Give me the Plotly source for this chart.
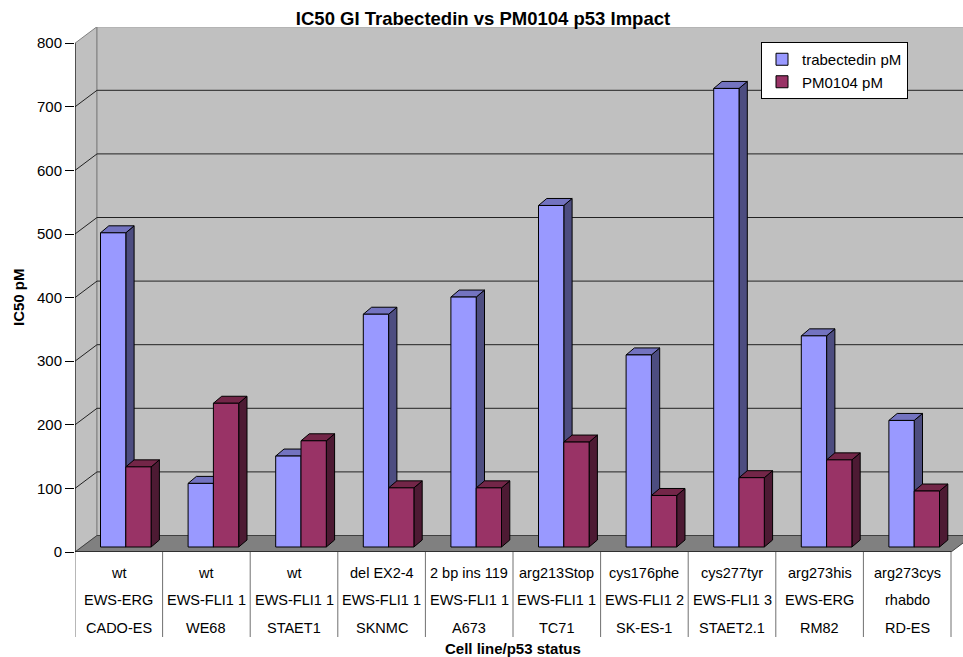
import plotly.graph_objects as go

# ---------------- data ----------------
mutation = ["wt", "wt", "wt", "del EX2-4", "2 bp ins 119", "arg213Stop",
            "cys176phe", "cys277tyr", "arg273his", "arg273cys"]
fusion = ["EWS-ERG", "EWS-FLI1 1", "EWS-FLI1 1", "EWS-FLI1 1", "EWS-FLI1 1",
          "EWS-FLI1 1", "EWS-FLI1 2", "EWS-FLI1 3", "EWS-ERG", "rhabdo"]
cell_line = ["CADO-ES", "WE68", "STAET1", "SKNMC", "A673", "TC71",
             "SK-ES-1", "STAET2.1", "RM82", "RD-ES"]
trabectedin = [494, 100, 143, 366, 393, 537, 302, 721, 332, 199]
pm0104 = [126, 226, 167, 93, 93, 165, 81, 109, 137, 88]
y_ticks = [0, 100, 200, 300, 400, 500, 600, 700, 800]

series_names = ["trabectedin pM", "PM0104 pM"]

# ---------------- geometry / style ----------------
W, H = 963, 657
ML, MR, MT, MB = 75, 0, 27, 105
CAT_PX = 87.6          # pixels per category
Y_PX = 0.636           # pixels per unit
X_MAX = (W - ML - MR) / CAT_PX
Y_MAX = (H - MT - MB) / Y_PX

WALL_DX = 22 / CAT_PX
WALL_DY = 16.5 / Y_PX
BAR_SHIFT = 7 / CAT_PX
BAR_BASE = 5 / Y_PX
BAR_W = 25.3 / CAT_PX
DEP_DX = 8.3 / CAT_PX
DEP_DY = 7 / Y_PX

FONT = "Liberation Sans, Arial, sans-serif"
n = len(cell_line)
centers = [i + 0.5 + BAR_SHIFT for i in range(n)]

colors = {
    "trab": dict(front="#9999FF", side="#4D4D80", top="#7373C0"),
    "pm": dict(front="#993366", side="#4D1A33", top="#732648"),
}

fig = go.Figure()


def faces(vals, left_off):
    side_x, side_y, top_x, top_y = [], [], [], []
    for c, v in zip(centers, vals):
        xl = c + left_off
        xr = xl + BAR_W
        y0 = BAR_BASE
        y1 = BAR_BASE + v
        side_x += [xr, xr + DEP_DX, xr + DEP_DX, xr, xr, None]
        side_y += [y0, y0 + DEP_DY, y1 + DEP_DY, y1, y0, None]
        top_x += [xl, xr, xr + DEP_DX, xl + DEP_DX, xl, None]
        top_y += [y1, y1, y1 + DEP_DY, y1 + DEP_DY, y1, None]
    return side_x, side_y, top_x, top_y


for key, vals, off in [("trab", trabectedin, -BAR_W), ("pm", pm0104, 0.0)]:
    sx, sy, tx, ty = faces(vals, off)
    fig.add_trace(go.Scatter(x=sx, y=sy, mode="lines", fill="toself",
                             fillcolor=colors[key]["side"],
                             line=dict(color="black", width=1),
                             showlegend=False, hoverinfo="skip"))
    fig.add_trace(go.Scatter(x=tx, y=ty, mode="lines", fill="toself",
                             fillcolor=colors[key]["top"],
                             line=dict(color="black", width=1),
                             showlegend=False, hoverinfo="skip"))

for key, name, vals, off in [("trab", series_names[0], trabectedin, -BAR_W),
                             ("pm", series_names[1], pm0104, 0.0)]:
    fig.add_trace(go.Bar(x=centers, y=vals, base=BAR_BASE, width=BAR_W,
                         offset=off, name=name,
                         marker=dict(color=colors[key]["front"],
                                     line=dict(color="black", width=1)),
                         xaxis="x2", yaxis="y2"))

shapes = []
# side wall
shapes.append(dict(type="path", xref="x", yref="y", layer="below",
                   path=f"M 0 0 L {WALL_DX} {WALL_DY} L {WALL_DX} {800 + WALL_DY} L 0 800 Z",
                   fillcolor="#C0C0C0", line=dict(color="#808080", width=1)))
# back wall
shapes.append(dict(type="rect", xref="x", yref="y", layer="below",
                   x0=WALL_DX, x1=X_MAX + 1, y0=WALL_DY, y1=800 + WALL_DY,
                   fillcolor="#C0C0C0", line=dict(color="#808080", width=1)))
# floor
shapes.append(dict(type="path", xref="x", yref="y", layer="below",
                   path=f"M 0 0 L {n} 0 L {n + WALL_DX} {WALL_DY} L {WALL_DX} {WALL_DY} Z",
                   fillcolor="#808080", line=dict(color="#404040", width=1)))
# gridlines
for v in y_ticks[1:-1]:
    shapes.append(dict(type="line", xref="x", yref="y", layer="below",
                       x0=WALL_DX, x1=X_MAX + 1, y0=v + WALL_DY, y1=v + WALL_DY,
                       line=dict(color="#222222", width=1)))
    shapes.append(dict(type="line", xref="x", yref="y", layer="below",
                       x0=0, x1=WALL_DX, y0=v, y1=v + WALL_DY,
                       line=dict(color="#222222", width=1)))
# axis line and floor front edge
shapes.append(dict(type="line", xref="x", yref="y", x0=0, x1=0, y0=0, y1=800,
                   line=dict(color="black", width=1)))
shapes.append(dict(type="line", xref="x", yref="y", x0=0, x1=n, y0=0, y1=0,
                   line=dict(color="black", width=1)))
# data table vertical lines
TABLE_BOTTOM = -(637 - (H - MB)) / (H - MT - MB)
for i in range(n + 1):
    shapes.append(dict(type="line", xref="x", yref="paper", x0=i, x1=i,
                       y0=0, y1=TABLE_BOTTOM,
                       line=dict(color="#707070", width=1)))

annotations = []
plot_h = H - MT - MB
row_px = [573, 600, 628]
for row, labels in zip(row_px, [mutation, fusion, cell_line]):
    yp = -(row - (H - MB)) / plot_h
    for i, lab in enumerate(labels):
        annotations.append(dict(x=i + 0.5, y=yp, xref="x", yref="paper",
                                text=lab, showarrow=False,
                                font=dict(family=FONT, size=14.5, color="black"),
                                xanchor="center", yanchor="middle"))
annotations.append(dict(x=(512.5 - ML) / (W - ML - MR), y=-(648 - (H - MB)) / plot_h,
                        xref="paper", yref="paper", text="<b>Cell line/p53 status</b>",
                        showarrow=False, font=dict(family=FONT, size=15, color="black"),
                        xanchor="center", yanchor="middle"))
annotations.append(dict(x=(18 - ML) / (W - ML - MR), y=(H - MB - 297) / plot_h,
                        xref="paper", yref="paper", text="<b>IC50 pM</b>",
                        textangle=-90, showarrow=False,
                        font=dict(family=FONT, size=15, color="black"),
                        xanchor="center", yanchor="middle"))

fig.update_layout(
    width=W, height=H,
    margin=dict(l=ML, r=MR, t=MT, b=MB, pad=0),
    paper_bgcolor="white", plot_bgcolor="rgba(0,0,0,0)",
    barmode="overlay",
    title=dict(text="<b>IC50 GI Trabectedin vs PM0104 p53 Impact</b>",
               x=483 / W, xref="container", xanchor="center",
               y=1 - 18.5 / H, yref="container", yanchor="middle",
               font=dict(family=FONT, size=18.5, color="black")),
    xaxis=dict(range=[0, X_MAX], visible=False, fixedrange=True),
    yaxis=dict(range=[0, Y_MAX], tickvals=y_ticks, ticks="outside", ticklen=9,
               tickcolor="black", showgrid=False, zeroline=False, showline=False,
               tickfont=dict(family=FONT, size=15, color="black"), fixedrange=True),
    xaxis2=dict(range=[0, X_MAX], overlaying="x", visible=False, fixedrange=True),
    yaxis2=dict(range=[0, Y_MAX], overlaying="y", visible=False, fixedrange=True),
    legend=dict(x=(761 - ML) / (W - ML - MR), y=1 - (42 - MT) / plot_h,
                xanchor="left", yanchor="top", bgcolor="white",
                bordercolor="black", borderwidth=1,
                font=dict(family=FONT, size=15, color="black")),
    shapes=shapes, annotations=annotations,
    showlegend=True,
)

fig.write_html("out.html")
